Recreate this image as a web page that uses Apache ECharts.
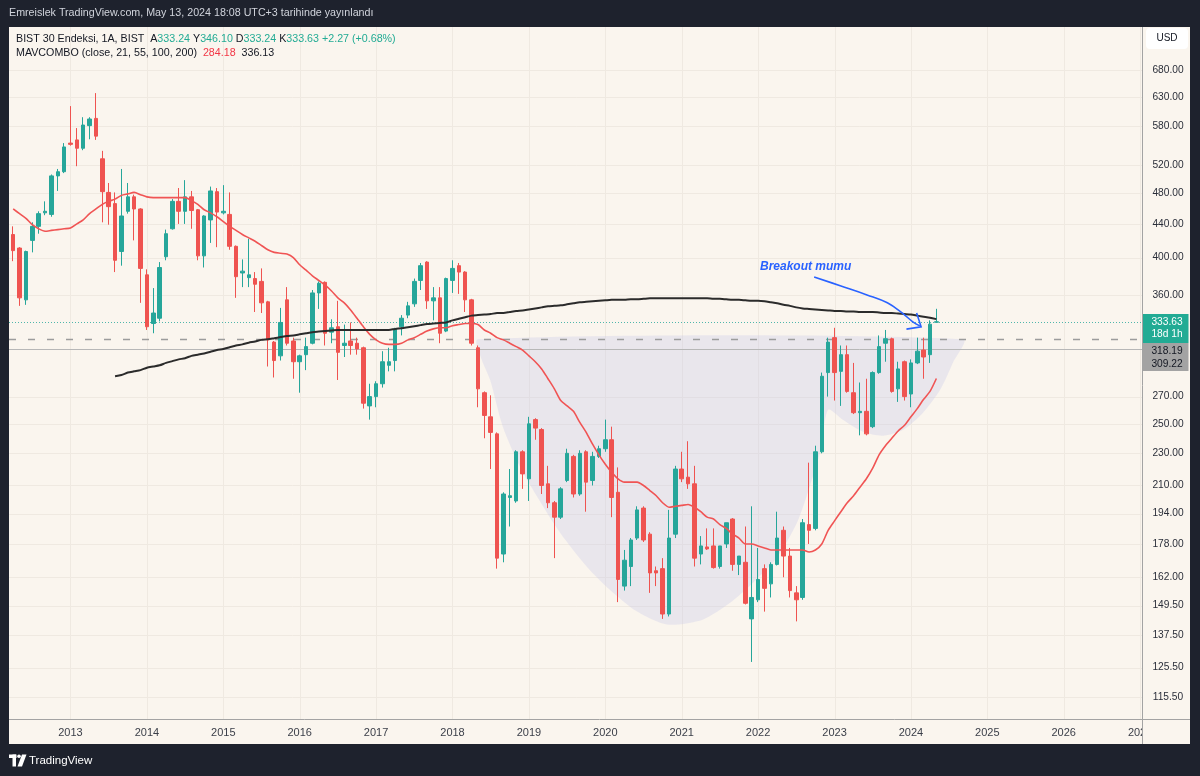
<!DOCTYPE html>
<html>
<head>
<meta charset="utf-8">
<title>BIST 30 Endeksi (USD) – aylık</title>
<script src="https://cdn.jsdelivr.net/npm/echarts@6/dist/echarts.min.js"></script>
<style>
html,body{margin:0;padding:0;background:#1e222d;}
#chart{width:1200px;height:776px;}
</style>
</head>
<body>
<div id="chart"></div>
<script>
// ---------------- data ----------------
const START_YEAR = 2012;
const START_MONTH = 4;          // first candle: April 2012
const CATEGORY_COUNT = 178;     // months on the time axis (through Jan 2027)

const opens = [
 427,411,355,420,437,454,452,504,510,553,
 558,545,581,593,529,481,466,407,456,475,
 459,381,332,337,401,434,469,456,475,458,
 402,445,482,454,452,413,383,378,377,374,
 353,315,303,355,316,298,304,314,362,373,
 324,329,312,316,314,310,263,270,280,295,
 299,329,340,351,375,395,354,357,325,375,
 391,384,355,310,273,255,243,173,203,201,
 231,214,253,246,211,200,192,213,228,205,
 231,213,228,233,239,206,158,167,181,197,
 183,165,166,146,183,220,215,211,173,176.5,
 177,167,178,191,168,169,144,152,166,159,
 168,185,172,155,153,188,186,231,289,319,
 290,304,273,258,259,248,289,314,318,276,
 298,272,297,308,304,333.24
];
const highs = [
 437,412,408,442,456,469,506,514,553,614,
 577,595,595,637,541,494,481,514,494,478,
 460,387,367,395,433,472,487,498,483,459,
 451,489,487,491,481,414,398,422,384,388,
 354,316,347,368,319,304,319,365,374,374,
 336,354,331,333,319,311,280,282,307,310,
 328,340,353,377,394,396,368,368,378,397,
 394,385,356,312,274,271,244,206,220,232,
 232,255,254,247,222,201,209,233,229,232,
 232,231,235,253,248,221,175,181,198,198,
 184,167,171,196,222,231,238,222,182,186,
 186,177,189,191.5,172,187,198,176,168,169,
 195,187,176,158,191,224,235,289,319,328,
 312,312,297,281,284,290,321,326,319,298,
 299,300,319,319,335,346.10
];
const lows = [
 396,349,350,406,428,451,449,483,508,549,
 518,542,559,558,442,439,384,391,453,420,
 352,326,323,334,397,433,440,440,434,397,
 389,417,412,452,409,357,368,368,343,342,
 294,285,299,312,284,273,291,313,346,312,
 314,283,302,304,304,261,253,262,277,290,
 290,321,337,348,365,346,335,314,324,362,
 361,343,312,262,240,220,166,169,187,200,
 208,201,239,205,197,171,191,212,203,204,
 195,210,227,231,192,151,156,158,180,179,
 155,158,144,145,181,212,208,167,168,175,
 166,166,176,165,163,150,127.5,151,147,153,
 167.5,162,153,143,152,178,185,230,270,267,
 263,273,257,242,242,247,288,298,273,266,
 267,262,296,284,297,333.24
];
const closes = [
 408,357,407,437,453,456,504,510,547,551,
 545,582,592,564,482,462,397,450,475,459,
 388,329,342,389,428,469,456,475,457,402,
 450,483,455,456,413,379,385,381,371,352,
 317,299,333,314,298,303,311,362,372,323,
 328,306,314,312,309,265,270,280,298,298,
 327,337,349,374,391,354,357,323,377,388,
 384,355,314,276,256,244,171,205,204,231,
 217,250,247,210,200,192,208,230,205,230,
 212,228,233,239,203,161,170,180,196,180,
 164,164,146,181,220,214,211,171,177,175.5,
 166.5,177,189,168,172,150.5,153,161,157,168,
 181,172,156,152,189,185,231,286,315,289,
 304,274,258,259,243,289,311,318,274,292,
 270,297,307,302,331.36,333.63
];
// MAVCOMBO: red moving average (one value per candle)
const maRed = [
 459,453,447,439,434,431,432,433,434,435,
 440,445,453,459,465,469,472,477,479,481,
 478,475,474,474,474,474,474,474,470,465,
 458,454,449,443,437,432,427,423,419,414,
 409,406,405,404,400,392,386,380,375,370,
 364,357,352,345,337,329,322,317,314,313,
 313,314,317,319,322,325,327,328,328,330,
 331,332,332,331,326,323,319,317,314,311,
 308,303,298,292,284,276,267,263,259,251,
 244,236,229,223,218,214,212,212,212,210,
 207,204,200,197.5,198,198.5,199,197.5,195,192,
 191,188,186,183,181,178,178,177,176,175,
 175,175,175,175,175,174,175,178,185,190,
 195,200,204,209,214,220.5,229,235,240,245,
 249,255,261,268,274,284.18
];
// MAVCOMBO: black moving average, starts at candle index 16 (Aug 2013)
const maBlackStart = 16;
const maBlack = [
 286,287,289,290,291,293,294,295,297,298.5,
 300,301,303,304,305,306.5,308,309,310.5,312,
 313,314.5,315.5,317,317.5,318.5,319.5,320.5,321,322,
 323,324,324.5,325,325.5,326,326,326,326,326,
 326,326,326,326,327,327.5,328.5,329.5,330.5,331.5,
 332,332.5,333,335,336.5,338,339.5,340,340.5,341,
 342,342,343,344,344.5,345.5,346.5,347.5,348.5,349,
 349.5,350.5,351.5,352.5,353,353.5,354,354.5,355,355,
 355,355.5,355.5,356,356.5,356.5,356.5,356.5,356.5,356.5,
 356.5,356.5,356.5,356.5,356,356,355.5,355,355,354.5,
 354,354,353.5,352.5,351.5,350,349,347.5,346.5,346,
 345.5,345,344.5,344,344,343.5,343.5,343,343,343,
 342.5,342,342,341.5,341,340.5,339.5,338.5,337.5,336.13
];
const priceTicks = [680,630,580,520,480,440,400,360,270,250,230,210,194,178,162,149.5,137.5,125.5,115.5];
const levelDashed = 318.19;
const levelSolid = 309.22;
const lastClose = 333.63;
// cup & handle drawing (month index, price)
const cupMonths = [73.0,149.2,147.6,145.6,142.9,139.8,136.6,133.5,130.3,128.0,126.7,125.1,123.1,120.0,116.2,112.6,108.3,102.7,98.0,93.7,90.1,85.9,82.3,79.6,76.9,74.9,73.6];
const cupPrices = [317.5,317.5,297.1,275.2,257.9,245.8,241.7,244.4,252.9,260.1,230.3,209.3,189.0,171.6,159.5,150.7,143.7,141.7,147.0,156.4,166.9,183.7,203.4,221.4,247.9,283.1,299.6];
// "Breakout mumu" arrow (month index, price)
const arrowMonths = [125.8,129.9,134.1,137.3,139.8,141.3,142.4];
const arrowPrices = [378.8,369.4,360.0,352.0,341.2,333.6,329.8];
const arrowHeadMonths = [140.3,142.6,141.9];
const arrowHeadPrices = [326.8,328.9,342.0];
const noteMonth = 117.3, notePrice = 389.7;

// ---------------- build ----------------
const categories = [];
for (let i = 0; i < CATEGORY_COUNT; i++) {
  const k = START_MONTH - 1 + i;
  const yy = START_YEAR + Math.floor(k / 12);
  const mm = (k % 12) + 1;
  categories.push(yy + '-' + (mm < 10 ? '0' : '') + mm);
}
const janIndices = [];
categories.forEach((c, i) => { if (c.endsWith('-01')) janIndices.push(i); });
const candleData = opens.map((o, i) => [o, closes[i], lows[i], highs[i]]);
const blackData = new Array(maBlackStart).fill(null).concat(maBlack);

const FONT = '"Liberation Sans", Arial, sans-serif';
const BG = '#faf5ee';
const GRIDC = '#efe9e1';
const UP = '#26a69a', DOWN = '#ef5350';
const BLUE = '#2962ff';
const crisp = v => Math.round(v) + 0.5;

const chart = echarts.init(document.getElementById('chart'), null, {renderer: 'canvas'});

const option = {
  backgroundColor: '#1e222d',
  animation: false,
  grid: {left: 10, right: 56.7, top: 27, bottom: 57, containLabel: false, outerBoundsMode: 'none'},
  xAxis: [
    {
      type: 'category', data: categories, boundaryGap: true,
      axisLine: {show: false}, axisTick: {show: false}, splitLine: {show: false},
      axisLabel: {
        interval: (idx, val) => val.endsWith('-01'),
        formatter: val => val.slice(0, 4),
        color: '#3a3e48', fontSize: 11, fontFamily: FONT, margin: 8
      }
    },
    {type: 'value', min: -0.5, max: CATEGORY_COUNT - 0.5, show: false}
  ],
  yAxis: [{type: 'log', logBase: 10, min: 108.5, max: 767.9, show: false}],
  series: [
    { // horizontal grid lines at price ticks
      type: 'custom', xAxisIndex: 1, yAxisIndex: 0, z: 1, silent: true,
      data: priceTicks.map(v => [0, v]),
      renderItem: (params, api) => {
        const cs = params.coordSys;
        const y = crisp(api.coord([0, api.value(1)])[1]);
        return {type: 'line', shape: {x1: 9, y1: y, x2: cs.x + cs.width, y2: y}, style: {stroke: GRIDC, lineWidth: 1}};
      }
    },
    { // vertical grid lines at each January
      type: 'custom', xAxisIndex: 1, yAxisIndex: 0, z: 1, silent: true,
      data: janIndices.map(i => [i, 300]),
      renderItem: (params, api) => {
        const cs = params.coordSys;
        const x = crisp(api.coord([api.value(0), 300])[0]);
        return {type: 'line', shape: {x1: x, y1: cs.y, x2: x, y2: cs.y + cs.height}, style: {stroke: GRIDC, lineWidth: 1}};
      }
    },
    { // cup & handle shading
      type: 'custom', xAxisIndex: 1, yAxisIndex: 0, z: 2, silent: true,
      data: [[cupMonths[0], cupPrices[0]]],
      renderItem: (params, api) => {
        const pts = cupMonths.map((m, i) => api.coord([m, cupPrices[i]]));
        return {type: 'polygon', shape: {points: pts, smooth: 0.25}, style: {fill: 'rgba(200,200,232,0.32)'}};
      }
    },
    { // horizontal levels and current-price line
      type: 'custom', xAxisIndex: 1, yAxisIndex: 0, z: 3, silent: true,
      data: [[0, levelDashed, 0], [0, levelSolid, 1], [0, lastClose, 2]],
      renderItem: (params, api) => {
        const cs = params.coordSys;
        const kind = api.value(2);
        const y = crisp(api.coord([0, api.value(1)])[1]);
        const st = [
          {stroke: '#9c9c9c', lineWidth: 1.6, lineDash: [7, 12]},
          {stroke: '#b7b7b7', lineWidth: 1},
          {stroke: 'rgba(38,166,154,0.8)', lineWidth: 1, lineDash: [1, 2]}
        ][kind];
        return {type: 'line', shape: {x1: 9, y1: y, x2: cs.x + cs.width, y2: y}, style: st};
      }
    },
    {
      name: 'BIST 30 Endeksi', type: 'candlestick', xAxisIndex: 0, yAxisIndex: 0, z: 4,
      data: candleData, barWidth: 4,
      itemStyle: {color: UP, color0: DOWN, borderColor: UP, borderColor0: DOWN, borderColorDoji: UP, borderWidth: 1}
    },
    {
      name: 'MA kırmızı', type: 'line', xAxisIndex: 0, yAxisIndex: 0, z: 5,
      data: maRed, showSymbol: false, symbol: 'none', smooth: 0.25,
      lineStyle: {color: '#f05454', width: 1.6}
    },
    {
      name: 'MA siyah', type: 'line', xAxisIndex: 0, yAxisIndex: 0, z: 5,
      data: blackData, showSymbol: false, symbol: 'none', smooth: 0.25,
      lineStyle: {color: '#2b2b2b', width: 2}
    },
    { // annotation
      type: 'custom', xAxisIndex: 1, yAxisIndex: 0, z: 6, silent: true,
      data: [[noteMonth, notePrice]],
      renderItem: (params, api) => {
        const pts = arrowMonths.map((m, i) => api.coord([m, arrowPrices[i]]));
        const head = arrowHeadMonths.map((m, i) => api.coord([m, arrowHeadPrices[i]]));
        const tp = api.coord([noteMonth, notePrice]);
        return {type: 'group', children: [
          {type: 'polyline', shape: {points: pts, smooth: 0.4}, style: {stroke: BLUE, lineWidth: 1.6, fill: null}},
          {type: 'polyline', shape: {points: head}, style: {stroke: BLUE, lineWidth: 1.6, fill: null}},
          {type: 'text', x: tp[0], y: tp[1], style: {text: 'Breakout mumu', fill: BLUE, font: 'italic bold 12px ' + FONT, align: 'left', verticalAlign: 'middle', textAlign: 'left', textVerticalAlign: 'middle'}}
        ]};
      }
    },
    { // price axis tick labels
      type: 'custom', xAxisIndex: 1, yAxisIndex: 0, z: 20, silent: true, clip: false,
      data: priceTicks.map(v => [0, v]),
      renderItem: (params, api) => {
        const cs = params.coordSys;
        const y = api.coord([0, api.value(1)])[1];
        return {type: 'text', x: 1168, y: y, style: {text: api.value(1).toFixed(2), fill: '#2a2e39', font: '10.2px ' + FONT, align: 'center', verticalAlign: 'middle', textAlign: 'center', textVerticalAlign: 'middle'}};
      }
    }
  ],
  graphic: {elements: [
    {type: 'rect', z: -10, silent: true, shape: {x: 9, y: 27, width: 1181, height: 717}, style: {fill: BG}},
    {type: 'rect', z: 10, silent: true, shape: {x: 1142.5, y: 27, width: 47.5, height: 717}, style: {fill: BG}},
    {type: 'line', z: 22, silent: true, shape: {x1: 1142.5, y1: 27, x2: 1142.5, y2: 744}, style: {stroke: '#a3a3a3', lineWidth: 1}},
    {type: 'line', z: 22, silent: true, shape: {x1: 9, y1: 719.5, x2: 1190, y2: 719.5}, style: {stroke: '#a3a3a3', lineWidth: 1}},
    // USD button
    {type: 'rect', z: 22, silent: true, shape: {x: 1146, y: 28, width: 42, height: 21, r: 4}, style: {fill: '#ffffff'}},
    {type: 'text', z: 23, silent: true, x: 1167, y: 38.5, style: {text: 'USD', fill: '#131722', font: '10px ' + FONT, align: 'center', verticalAlign: 'middle', textAlign: 'center', textVerticalAlign: 'middle'}},
    // price labels of last close and levels
    {type: 'rect', z: 22, silent: true, shape: {x: 1143, y: 314, width: 45.5, height: 29}, style: {fill: '#22ab94'}},
    {type: 'text', z: 23, silent: true, x: 1167, y: 322.5, style: {text: '333.63', fill: '#ffffff', font: '10.2px ' + FONT, align: 'center', verticalAlign: 'middle', textAlign: 'center', textVerticalAlign: 'middle'}},
    {type: 'text', z: 23, silent: true, x: 1167, y: 334, style: {text: '18d 1h', fill: '#ffffff', font: '10.2px ' + FONT, align: 'center', verticalAlign: 'middle', textAlign: 'center', textVerticalAlign: 'middle'}},
    {type: 'rect', z: 22, silent: true, shape: {x: 1143, y: 343, width: 45.5, height: 28}, style: {fill: '#a3a3a3'}},
    {type: 'text', z: 23, silent: true, x: 1167, y: 351.5, style: {text: '318.19', fill: '#131722', font: '10.2px ' + FONT, align: 'center', verticalAlign: 'middle', textAlign: 'center', textVerticalAlign: 'middle'}},
    {type: 'text', z: 23, silent: true, x: 1167, y: 364.5, style: {text: '309.22', fill: '#131722', font: '10.2px ' + FONT, align: 'center', verticalAlign: 'middle', textAlign: 'center', textVerticalAlign: 'middle'}},
    // header
    {type: 'text', z: 23, silent: true, x: 9, y: 13.5, style: {text: 'Emreislek TradingView.com, May 13, 2024 18:08 UTC+3 tarihinde yayınlandı', fill: '#d1d4dc', font: '10.7px ' + FONT, verticalAlign: 'middle', textVerticalAlign: 'middle'}},
    // legend
    {type: 'text', z: 23, silent: true, x: 16, y: 39, style: {
      text: '{d|BIST 30 Endeksi, 1A, BIST}  {d|A}{g|333.24} {d|Y}{g|346.10} {d|D}{g|333.24} {d|K}{g|333.63} {g|+2.27 (+0.68%)}',
      fill: '#131722', font: '10.7px ' + FONT, verticalAlign: 'middle', textVerticalAlign: 'middle',
      rich: {d: {fill: '#131722', color: '#131722', fontSize: 10.7, fontFamily: FONT}, g: {fill: '#22ab94', color: '#22ab94', fontSize: 10.7, fontFamily: FONT}}
    }},
    {type: 'text', z: 23, silent: true, x: 16, y: 53, style: {
      text: '{d|MAVCOMBO (close, 21, 55, 100, 200)}  {r|284.18}  {d|336.13}',
      fill: '#131722', font: '10.7px ' + FONT, verticalAlign: 'middle', textVerticalAlign: 'middle',
      rich: {d: {fill: '#131722', color: '#131722', fontSize: 10.7, fontFamily: FONT}, r: {fill: '#f23645', color: '#f23645', fontSize: 10.7, fontFamily: FONT}}
    }},
    // TradingView logo
    {type: 'rect', z: 23, silent: true, shape: {x: 9, y: 754.5, width: 7.5, height: 3.5}, style: {fill: '#ffffff'}},
    {type: 'rect', z: 23, silent: true, shape: {x: 12.5, y: 754.5, width: 3.5, height: 12}, style: {fill: '#ffffff'}},
    {type: 'circle', z: 23, silent: true, shape: {cx: 19, cy: 756.3, r: 1.8}, style: {fill: '#ffffff'}},
    {type: 'polygon', z: 23, silent: true, shape: {points: [[22, 754.5], [26.5, 754.5], [22, 766.5], [17.5, 766.5]]}, style: {fill: '#ffffff'}},
    {type: 'text', z: 23, silent: true, x: 29, y: 761, style: {text: 'TradingView', fill: '#ffffff', font: '11.5px ' + FONT, verticalAlign: 'middle', textVerticalAlign: 'middle'}}
  ]}
};
chart.setOption(option);
</script>
</body>
</html>
